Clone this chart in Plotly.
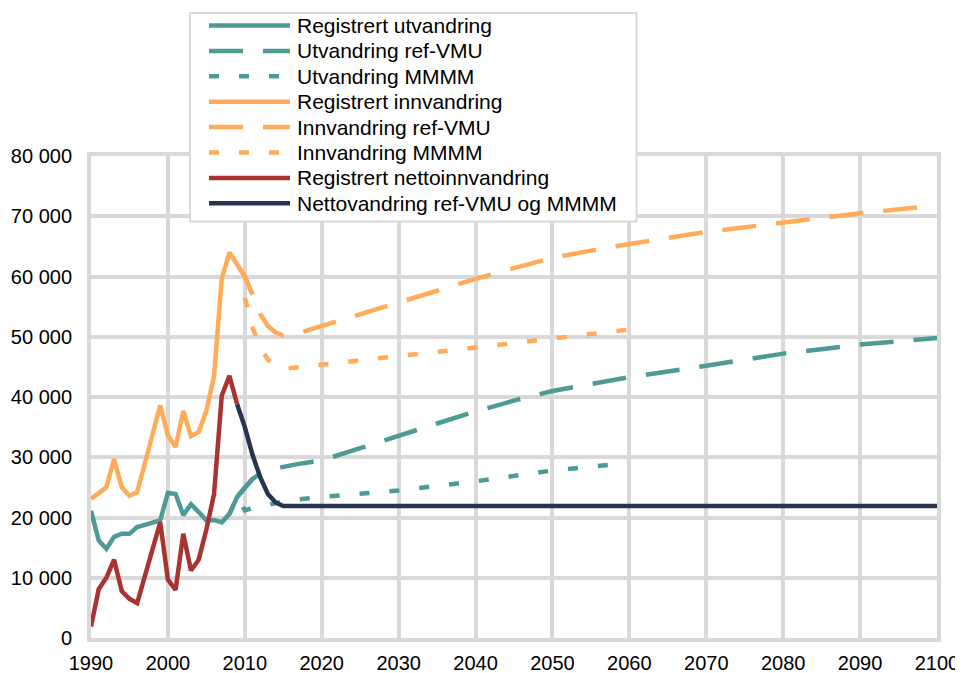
import plotly.graph_objects as go

# ---------------- data ----------------
reg_years = list(range(1990, 2012))
reg_utvandring = [21.1, 16.2, 14.8, 16.8, 17.3, 17.3, 18.4, 18.8, 19.1, 19.5,
                  24.1, 23.9, 20.4, 22.2, 20.9, 19.5, 19.6, 19.2, 20.6, 23.4,
                  25.0, 26.4]
reg_innvandring = [23.1, 24.1, 25.0, 29.7, 25.0, 23.6, 24.2, 29.0, 33.6, 38.6,
                   33.6, 31.7, 37.7, 33.5, 34.2, 37.7, 43.5, 59.6, 64.0, 62.0,
                   60.0, 57.0]
net_years = list(range(1990, 2010))
reg_netto = [1.9, 8.1, 10.0, 13.0, 7.8, 6.5, 5.8, 10.2, 14.6, 19.2,
             9.7, 8.0, 17.3, 11.2, 13.0, 18.0, 23.9, 40.2, 43.5, 38.8]

ref_years = [2009, 2010, 2011, 2012, 2013, 2014, 2015, 2016, 2017, 2018, 2020,
             2025, 2030, 2035, 2040, 2045, 2050, 2055, 2060, 2070, 2080, 2090, 2100]
ref_utvandring = [23.4, 25.0, 26.4, 27.3, 27.8, 28.1, 28.4, 28.7, 28.9, 29.1, 29.5,
                  31.5, 33.6, 35.6, 37.6, 39.4, 41.0, 42.2, 43.3, 45.2, 47.2, 48.7, 49.8]
ref_innvandring = [62.0, 60.0, 57.0, 53.8, 51.8, 50.7, 50.2, 50.3, 50.6, 51.0, 51.7,
                   53.6, 55.6, 57.6, 59.6, 61.4, 63.1, 64.3, 65.4, 67.4, 69.0, 70.5, 71.8]

mmmm_years_u = [2008, 2009, 2010, 2011, 2012, 2013, 2014, 2015, 2016, 2017, 2020,
                2030, 2040, 2050, 2058]
mmmm_utvandring = [20.6, 23.4, 21.2, 21.6, 21.9, 22.1, 22.4, 22.6, 22.9, 23.0, 23.4,
                   24.5, 26.0, 27.8, 28.8]
mmmm_years_i = [2010, 2011, 2012, 2013, 2014, 2015, 2016, 2020, 2030, 2040, 2050, 2060]
mmmm_innvandring = [56.5, 51.5, 48.3, 46.2, 45.2, 44.7, 44.8, 45.4, 46.8, 48.2, 49.7, 51.2]

netto_years = [2009, 2010, 2011, 2012, 2013, 2014, 2015, 2020, 2030, 2040, 2050,
               2060, 2070, 2080, 2090, 2100]
netto_proj = [38.8, 35.0, 30.4, 26.7, 23.9, 22.5, 21.9, 21.9, 21.9, 21.9, 21.9,
              21.9, 21.9, 21.9, 21.9, 21.9]

y_ticks = [0, 10000, 20000, 30000, 40000, 50000, 60000, 70000, 80000]
x_ticks = list(range(1990, 2101, 10))

labels = ["Registrert utvandring", "Utvandring ref-VMU", "Utvandring MMMM",
          "Registrert innvandring", "Innvandring ref-VMU", "Innvandring MMMM",
          "Registrert nettoinnvandring", "Nettovandring ref-VMU og MMMM"]

# ---------------- style ----------------
TEAL = "#4D9A96"
ORANGE = "#FFAB57"
RED = "#A93232"
NAVY = "#27344F"
GRID = "#D9D9D9"
DASH = "34px,20px"
DOT = "10px,20px"
FONT = "Liberation Sans, Arial, sans-serif"
LW = 4.5

def k(vals):
    return [v * 1000 for v in vals]

series = [
    (ref_years, ref_utvandring, TEAL, DASH),
    (mmmm_years_u, mmmm_utvandring, TEAL, DOT),
    (ref_years, ref_innvandring, ORANGE, DASH),
    (mmmm_years_i, mmmm_innvandring, ORANGE, DOT),
    (reg_years, reg_utvandring, TEAL, "solid"),
    (reg_years, reg_innvandring, ORANGE, "solid"),
    (net_years, reg_netto, RED, "solid"),
    (netto_years, netto_proj, NAVY, "solid"),
]

fig = go.Figure()
for xs, ys, col, dash in series:
    fig.add_trace(go.Scatter(x=xs, y=k(ys), mode="lines",
                             line=dict(color=col, width=LW, dash=dash),
                             showlegend=False, hoverinfo="skip"))

# ---------------- layout ----------------
# page body has an 8px margin, so work in viewport pixels and subtract it
OFF = 8
W, H = 963 - OFF, 673 - OFF
PL, PR, PT, PB = 91, 937, 156, 638          # plot area in viewport pixels
L, T = PL - OFF, PT - OFF
R, B = W - (PR - OFF), H - (PB - OFF)
PW, PH = PR - PL, PB - PT

def px(xv):
    return (xv - PL) / PW

def py(yv):
    return (PB - yv) / PH

shapes = []
annotations = []
shapes.append(dict(type="rect", xref="paper", yref="paper",
                   x0=px(190), x1=px(636.5), y0=py(221.5), y1=py(13),
                   line=dict(color=GRID, width=2), fillcolor="white", layer="above"))
leg_style = [(TEAL, "solid"), (TEAL, DASH), (TEAL, DOT),
             (ORANGE, "solid"), (ORANGE, DASH), (ORANGE, DOT),
             (RED, "solid"), (NAVY, "solid")]
row_y0, row_dy = 25.5, 25.4
for i, ((col, dash), lab) in enumerate(zip(leg_style, labels)):
    yy = row_y0 + i * row_dy
    shapes.append(dict(type="line", xref="paper", yref="paper",
                       x0=px(209), x1=px(290), y0=py(yy), y1=py(yy),
                       line=dict(color=col, width=LW, dash=dash), layer="above"))
    annotations.append(dict(xref="paper", yref="paper", x=px(295), y=py(yy),
                            xanchor="left", yanchor="middle", text=lab,
                            showarrow=False,
                            font=dict(family=FONT, size=21, color="#000000")))

fig.update_layout(
    width=W, height=H,
    margin=dict(l=L, r=R, t=T, b=B, pad=0, autoexpand=False),
    paper_bgcolor="white", plot_bgcolor="white",
    font=dict(family=FONT, size=20, color="#000000"),
    separators=", ",
    shapes=shapes, annotations=annotations,
    showlegend=False,
)
fig.update_xaxes(range=[1990, 2100], tickvals=x_ticks, showgrid=True,
                 gridcolor=GRID, gridwidth=4, showline=True, linecolor=GRID,
                 linewidth=4, mirror=True, zeroline=False, ticks="",
                 automargin=False, ticklabelstandoff=4, tickfont=dict(size=20))
fig.update_yaxes(range=[0, 80000], tickvals=y_ticks, tickformat=",.0f",
                 showgrid=True, gridcolor=GRID, gridwidth=4, showline=True,
                 linecolor=GRID, linewidth=4, mirror=True, zeroline=False,
                 automargin=False, ticks="", ticklabelstandoff=11,
                 tickfont=dict(size=20))

fig.write_html("out.html")
